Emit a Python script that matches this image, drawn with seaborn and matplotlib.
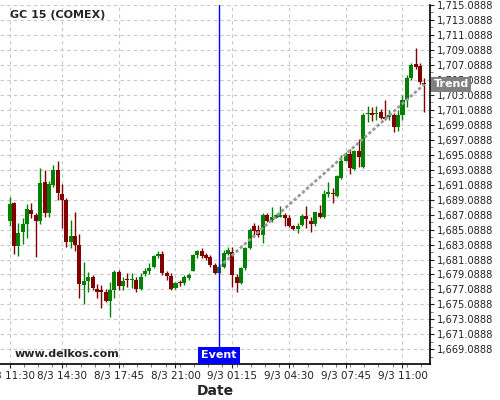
import numpy as np
import pandas as pd
import matplotlib
matplotlib.use("Agg")
import matplotlib.pyplot as plt
import matplotlib.transforms as mtransforms
from matplotlib.ticker import FixedLocator, MultipleLocator, FuncFormatter
import seaborn as sns

# 15 minute candles, GC (COMEX)
opens = [1686.3, 1688.6, 1682.9, 1684.7, 1685.8, 1687.7, 1687.0, 1686.3, 1691.4, 1687.3,
         1691.1, 1693.0, 1689.8, 1689.0, 1683.4, 1684.2, 1683.0, 1677.7, 1678.2, 1678.8,
         1677.2, 1677.0, 1676.8, 1675.5, 1677.0, 1679.4, 1677.5, 1678.4, 1678.3, 1678.4,
         1677.1, 1679.1, 1679.6, 1680.1, 1681.6, 1681.8, 1679.3, 1678.9, 1677.3, 1678.0,
         1677.9, 1678.6, 1679.5, 1681.7, 1682.2, 1681.7, 1681.4, 1680.4, 1679.3, 1680.1,
         1681.8, 1682.1, 1678.8, 1678.0, 1679.9, 1682.6, 1685.6, 1685.0, 1684.4, 1687.1,
         1686.4, 1686.7, 1686.8, 1687.0, 1686.6, 1685.5, 1685.2, 1685.7, 1686.9, 1686.3,
         1685.8, 1687.3, 1686.8, 1689.8, 1689.9, 1689.6, 1692.0, 1694.3, 1695.2, 1693.2,
         1695.6, 1693.5, 1700.5, 1700.6, 1700.5, 1700.8, 1700.1, 1700.1, 1700.4, 1698.8,
         1700.4, 1702.4, 1705.3, 1707.2, 1706.9, 1704.6]
highs = [1689.4, 1688.8, 1686.0, 1686.6, 1688.5, 1688.6, 1687.3, 1693.3, 1693.0, 1691.6,
         1693.7, 1694.3, 1691.2, 1689.3, 1686.4, 1687.4, 1684.5, 1680.8, 1679.4, 1679.0,
         1677.8, 1677.7, 1677.2, 1678.1, 1679.7, 1679.7, 1678.8, 1679.3, 1679.3, 1678.8,
         1679.3, 1679.9, 1680.6, 1681.7, 1682.2, 1682.2, 1679.5, 1679.3, 1678.1, 1678.4,
         1679.0, 1679.3, 1681.8, 1682.4, 1682.6, 1681.9, 1681.7, 1680.6, 1680.4, 1682.4,
         1682.8, 1682.8, 1679.2, 1680.1, 1682.8, 1685.3, 1685.9, 1685.7, 1687.3, 1687.3,
         1688.1, 1687.2, 1688.2, 1687.3, 1687.0, 1685.7, 1685.9, 1687.2, 1688.2, 1686.8,
         1687.5, 1688.4, 1690.4, 1691.5, 1690.6, 1692.4, 1695.0, 1695.5, 1695.9, 1695.7,
         1697.2, 1700.7, 1701.6, 1701.5, 1701.6, 1701.2, 1702.4, 1701.0, 1700.7, 1701.1,
         1703.1, 1705.7, 1707.3, 1709.3, 1707.3, 1705.3]
lows = [1685.6, 1681.8, 1681.5, 1683.2, 1684.0, 1686.6, 1681.4, 1685.8, 1686.8, 1686.8,
        1690.8, 1689.0, 1685.3, 1682.8, 1682.6, 1682.2, 1675.9, 1675.1, 1676.8, 1677.0,
        1675.9, 1674.6, 1675.4, 1673.4, 1675.9, 1677.0, 1677.0, 1677.4, 1677.3, 1676.8,
        1677.0, 1678.9, 1679.2, 1680.0, 1681.3, 1679.0, 1678.4, 1677.0, 1677.2, 1677.6,
        1677.7, 1678.4, 1679.5, 1681.3, 1681.3, 1681.0, 1680.1, 1679.1, 1679.1, 1680.0,
        1681.7, 1677.4, 1676.7, 1677.8, 1679.7, 1682.5, 1684.1, 1684.1, 1683.3, 1686.1,
        1686.1, 1686.6, 1686.8, 1685.6, 1685.4, 1685.0, 1684.6, 1685.5, 1685.3, 1684.8,
        1685.5, 1686.6, 1686.6, 1689.5, 1688.6, 1689.5, 1691.9, 1694.2, 1692.5, 1693.0,
        1693.4, 1693.3, 1699.5, 1699.6, 1699.7, 1699.9, 1699.7, 1699.7, 1698.1, 1698.2,
        1699.7, 1701.5, 1705.1, 1706.6, 1704.6, 1700.8]
closes = [1688.5, 1682.9, 1684.6, 1685.8, 1687.8, 1687.2, 1686.3, 1691.3, 1687.3, 1691.2,
          1693.0, 1690.0, 1689.0, 1683.4, 1684.2, 1683.0, 1677.8, 1678.2, 1678.8, 1677.3,
          1676.8, 1676.7, 1675.5, 1677.0, 1679.4, 1677.5, 1678.2, 1678.3, 1678.4, 1677.1,
          1678.8, 1679.6, 1680.0, 1681.6, 1681.8, 1679.3, 1678.9, 1677.1, 1678.0, 1677.9,
          1678.7, 1679.0, 1681.7, 1682.2, 1681.6, 1681.3, 1680.3, 1679.3, 1680.1, 1681.9,
          1682.3, 1679.0, 1677.9, 1679.9, 1682.6, 1685.0, 1684.9, 1684.4, 1687.0, 1686.3,
          1686.8, 1687.0, 1687.1, 1686.7, 1685.5, 1685.2, 1685.6, 1686.9, 1686.5, 1685.8,
          1687.4, 1686.8, 1689.9, 1690.1, 1689.8, 1692.2, 1694.3, 1695.2, 1693.3, 1695.6,
          1694.8, 1700.4, 1700.6, 1700.4, 1700.7, 1700.0, 1699.9, 1700.4, 1698.8, 1700.4,
          1702.4, 1705.3, 1707.1, 1706.8, 1704.8, 1704.5]

tick_labels = ["8/3 11:30", "8/3 14:30", "8/3 17:45", "8/3 21:00",
               "9/3 01:15", "9/3 04:30", "9/3 07:45", "9/3 11:00"]
tick_bars = [0, 12, 25, 38, 51, 64, 77, 90]

event_bar = 48
trend_bars = [48, 95]
trend_prices = [1680.1, 1704.5]

df = pd.DataFrame({"open": opens, "high": highs, "low": lows, "close": closes})
df["bar"] = np.arange(len(df))
df["up"] = df["close"] > df["open"]

sns.set_style("white")
plt.rcParams["font.family"] = ["DejaVu Sans"]

fig = plt.figure(figsize=(5, 4), dpi=100)
ax = fig.add_axes([0.0, 0.09, 0.86, 0.8975])

green, red = "#008000", "#800000"
cols = np.where(df["up"], green, red)

# wicks then bodies
ax.vlines(df["bar"], df["low"], df["high"], colors=cols, lw=1.0, zorder=3)
body_lo = np.minimum(df["open"], df["close"])
body_h = np.maximum((df["close"] - df["open"]).abs(), 0.14)
ax.bar(df["bar"], body_h, bottom=body_lo, width=0.92, color=cols, linewidth=0, zorder=4)

# trend line
sns.lineplot(x=trend_bars, y=trend_prices, ax=ax, color="#9a9a9a", lw=2.0,
             linestyle=(0, (1.2, 0.8)), zorder=5)

# event marker
ax.axvline(event_bar, color="#0000ff", lw=1.0, zorder=6)
blend_x = mtransforms.blended_transform_factory(ax.transData, ax.transAxes)
ax.text(event_bar, 0.01, "Event", transform=blend_x, ha="center", va="bottom",
        color="white", fontsize=8, fontweight="bold", zorder=7,
        bbox=dict(boxstyle="square,pad=0.28", fc="#0000ff", ec="none"))

# trend label on the price axis
blend_y = mtransforms.blended_transform_factory(ax.transAxes, ax.transData)
ax.text(1.008, trend_prices[-1], "Trend", transform=blend_y, ha="left", va="center",
        color="white", fontsize=8, fontweight="bold", zorder=10, clip_on=False,
        bbox=dict(boxstyle="square,pad=0.22", fc="#808080", ec="none"))

ax.text(0.023, 0.972, "GC 15 (COMEX)", transform=ax.transAxes, ha="left", va="center",
        fontsize=8, fontweight="bold")
ax.text(0.035, 0.028, "www.delkos.com", transform=ax.transAxes, ha="left", va="center",
        fontsize=8, fontweight="bold")

# axes
ax.set_xlim(-2.2, 96.3)
ax.set_ylim(1667.13, 1715.0888)
ax.yaxis.tick_right()
ax.yaxis.set_major_locator(FixedLocator(np.arange(1669.0888, 1715.1, 2)))
ax.yaxis.set_minor_locator(FixedLocator(np.arange(1667.0888, 1715.1, 1)))
ax.yaxis.set_major_formatter(FuncFormatter(lambda v, p: f"{v:,.4f}"))
ax.set_xticks(tick_bars)
ax.set_xticklabels(tick_labels)
ax.xaxis.set_minor_locator(MultipleLocator(3.25))
ax.tick_params(axis="both", which="major", length=3, width=0.8,
               colors="#222222", pad=2)
ax.tick_params(axis="x", which="major", labelsize=7.5)
ax.tick_params(axis="y", which="major", labelsize=7.1)
ax.tick_params(axis="both", which="minor", length=2, width=0.6, colors="#666666")
ax.tick_params(axis="y", which="both", right=True, left=False)
ax.tick_params(axis="x", which="both", bottom=True)

ax.grid(True, which="major", color="#c8c8c8", lw=0.8, ls=(0, (3, 3)))
ax.set_axisbelow(True)
for s in ["left", "top"]:
    ax.spines[s].set_visible(False)
for s in ["right", "bottom"]:
    ax.spines[s].set_color("black")
    ax.spines[s].set_linewidth(1.2)

ax.set_xlabel("Date", fontsize=10, fontweight="bold", labelpad=2)
ax.set_ylabel("")

fig.savefig("out.png", dpi=100)
